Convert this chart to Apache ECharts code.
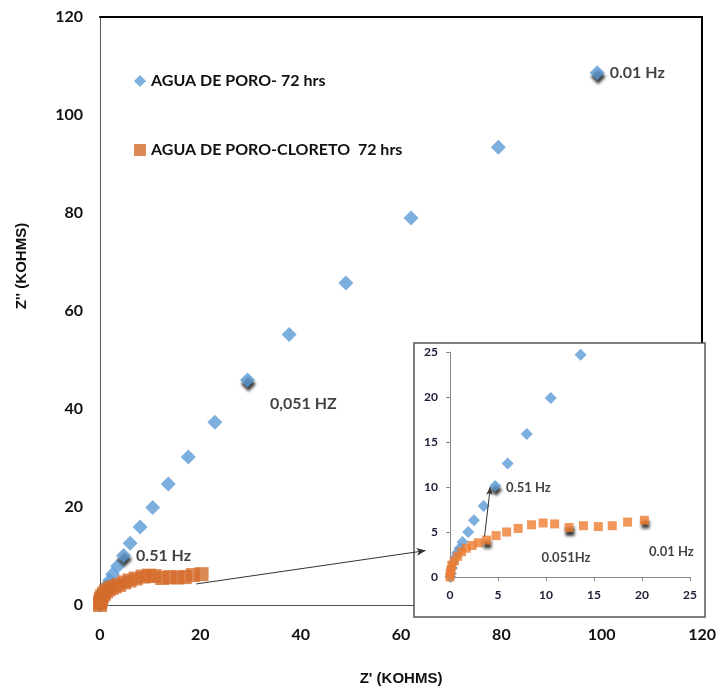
<!DOCTYPE html>
<html><head><meta charset="utf-8">
<script src="https://cdn.jsdelivr.net/npm/echarts@6/dist/echarts.min.js"></script>
<style>html,body{margin:0;padding:0;background:#fff}#c{width:719px;height:691px}</style>
</head><body><div id="c"></div>
<script>
// ---- data (kOhms) ----
const seriesNames = ['AGUA DE PORO- 72 hrs', 'AGUA DE PORO-CLORETO  72 hrs'];
const poroX = [0.05, 0.1, 0.2, 0.35, 0.55, 0.75, 1.0, 1.3, 1.9, 2.5, 3.5, 4.7, 6.0, 8.0, 10.5, 13.6, 17.6, 22.9, 29.4, 37.7, 49.0, 62.0, 79.4, 99.1];
const poroY = [0.0, 0.4, 1.0, 1.6, 2.2, 2.7, 3.2, 3.9, 5.0, 6.3, 7.9, 10.1, 12.6, 15.9, 19.9, 24.7, 30.2, 37.3, 45.9, 55.2, 65.7, 79.0, 93.4, 108.6];
const cloretoX = [0.0, 0.02, 0.1, 0.2, 0.45, 0.8, 1.2, 1.7, 2.3, 2.95, 3.8, 4.8, 5.9, 7.1, 8.5, 9.7, 10.9, 12.4, 13.9, 15.45, 16.9, 18.5, 20.25];
const cloretoY = [0.0, 0.4, 0.8, 1.3, 1.8, 2.3, 2.8, 3.2, 3.5, 3.8, 4.1, 4.6, 5.0, 5.4, 5.8, 6.0, 5.9, 5.5, 5.7, 5.6, 5.7, 6.1, 6.3];
const mainTicks = [0, 20, 40, 60, 80, 100, 120];
const insetTicks = [0, 5, 10, 15, 20, 25];
// annotated points: [series, index, text]
const mainNotes = [[0, 23, '0.01 Hz'], [0, 18, '0,051 HZ'], [0, 11, '0.51 Hz']];
const insetNotes = [[0, 11, '0.51 Hz'], [1, 17, '0.051Hz'], [1, 22, '0.01 Hz'], [1, 10, '']];
// arrows (data coords): main grid, inset grid
const mainArrow = [[19.2, 4.3], [64.9, 11.1]];
const insetArrow = [[3.6, 4.5], [4.2, 10.0]];

// ---- styling ----
const BLUE = '#5B9BD5', ORANGE_MAIN = '#D46B2B', ORANGE_IN = '#ED7D31';
const FONT = 'Lato, "Open Sans", sans-serif';
const mainLabelStyle = {
  '0.01 Hz': {position: 'right', offset: [0, 0]},
  '0,051 HZ': {position: 'right', offset: [10, 24]},
  '0.51 Hz': {position: 'right', offset: [0, 0]}
};
const insetLabelStyle = {
  '0.51 Hz': {position: 'right', offset: [0, 2]},
  '0.051Hz': {position: 'bottom', offset: [-3, 14]},
  '0.01 Hz': {position: 'bottom', offset: [27, 16]},
  '': {position: 'right', offset: [0, 0]}
};
const shadow = {shadowColor: 'rgba(0,0,0,0.95)', shadowBlur: 3, shadowOffsetX: 1, shadowOffsetY: 4};

function build(xs, ys, sIdx, notes, styles, fontSize) {
  return xs.map((x, i) => {
    const note = notes.find(n => n[0] === sIdx && n[1] === i);
    if (!note) return [x, ys[i]];
    const st = styles[note[2]];
    return {
      value: [x, ys[i]],
      itemStyle: shadow,
      label: {show: note[2] !== '', formatter: note[2], position: st.position, offset: st.offset,
        fontFamily: FONT, fontWeight: 'bold', fontSize: fontSize, color: '#111'}
    };
  });
}

const chart = echarts.init(document.getElementById('c'), null, {renderer: 'canvas'});
const mainAxisCommon = {
  type: 'value', min: mainTicks[0], max: mainTicks[mainTicks.length - 1], interval: mainTicks[1] - mainTicks[0],
  splitLine: {show: false}, axisTick: {show: false},
  axisLine: {show: true, lineStyle: {color: '#555', width: 1}},
  axisLabel: {fontFamily: FONT, fontWeight: 'bold', fontSize: 16, color: '#111'}
};
const insetAxisCommon = {
  type: 'value', min: insetTicks[0], max: insetTicks[insetTicks.length - 1], interval: insetTicks[1] - insetTicks[0],
  splitLine: {show: false}, z: 5,
  axisTick: {show: true, length: 4, lineStyle: {color: '#888'}},
  axisLine: {show: true, onZero: false, lineStyle: {color: '#888', width: 1}},
  axisLabel: {fontFamily: FONT, fontWeight: 'bold', fontSize: 12, color: '#1d1d3a'}
};

chart.setOption({
  animation: false,
  backgroundColor: '#fff',
  grid: [
    {left: 100, top: 17, right: 14, bottom: 82},
    {left: 450, top: 352, right: 29, bottom: 114}
  ],
  xAxis: [
    Object.assign({}, mainAxisCommon, {gridIndex: 0, name: "Z' (KOHMS)", nameLocation: 'middle', nameGap: 66,
      nameTextStyle: {fontFamily: '"Liberation Sans", Arial, sans-serif', fontWeight: 'bold', fontSize: 15, color: '#111'},
      axisLabel: Object.assign({}, mainAxisCommon.axisLabel, {margin: 22})}),
    Object.assign({}, insetAxisCommon, {gridIndex: 1, axisLabel: Object.assign({}, insetAxisCommon.axisLabel, {margin: 12})}),
    {type: 'value', gridIndex: 0, position: 'top', min: 0, max: 120, axisLabel: {show: false}, axisTick: {show: false},
      splitLine: {show: false}, axisLine: {show: true, onZero: false, lineStyle: {color: '#000', width: 2}}}
  ],
  yAxis: [
    Object.assign({}, mainAxisCommon, {gridIndex: 0, axisLabel: Object.assign({}, mainAxisCommon.axisLabel, {margin: 17})}),
    Object.assign({}, insetAxisCommon, {gridIndex: 1, axisLabel: Object.assign({}, insetAxisCommon.axisLabel, {margin: 12})}),
    {type: 'value', gridIndex: 0, position: 'right', min: 0, max: 120, axisLabel: {show: false}, axisTick: {show: false},
      splitLine: {show: false}, axisLine: {show: true, onZero: false, lineStyle: {color: '#000', width: 2}}}
  ],
  legend: {
    orient: 'vertical', left: 129, top: 68, itemGap: 53, itemWidth: 12, itemHeight: 12,
    data: [{name: seriesNames[0], icon: 'diamond'}, {name: seriesNames[1], icon: 'rect'}],
    textStyle: {fontFamily: FONT, fontWeight: 'bold', fontSize: 16, color: '#111'}
  },
  graphic: [
    {type: 'rect', z: 1, shape: {x: 414, y: 343, width: 291, height: 274},
      style: {fill: '#fff', stroke: '#555', lineWidth: 1.5}},
    {type: 'text', z: 10, x: 22, y: 266, rotation: Math.PI / 2,
      style: {text: "Z'' (KOHMS)", font: 'bold 15px "Liberation Sans", Arial, sans-serif', fill: '#111',
        textAlign: 'center', textVerticalAlign: 'middle'}}
  ],
  series: [
    {name: seriesNames[0], type: 'scatter', xAxisIndex: 0, yAxisIndex: 0, symbol: 'diamond', symbolSize: 15,
      itemStyle: {color: BLUE}, data: build(poroX, poroY, 0, mainNotes, mainLabelStyle, 16)},
    {name: seriesNames[1], type: 'scatter', xAxisIndex: 0, yAxisIndex: 0, symbol: 'rect', symbolSize: 14,
      itemStyle: {color: ORANGE_MAIN}, data: build(cloretoX, cloretoY, 1, mainNotes, mainLabelStyle, 16),
      markLine: {silent: true, symbol: ['none', 'arrow'], symbolSize: [6, 9], label: {show: false},
        lineStyle: {color: '#333', width: 1, type: 'solid'},
        data: [[{coord: mainArrow[0]}, {coord: mainArrow[1]}]]}},
    {name: seriesNames[0], type: 'scatter', xAxisIndex: 1, yAxisIndex: 1, symbol: 'diamond', symbolSize: 12, z: 6,
      itemStyle: {color: BLUE}, data: build(poroX, poroY, 0, insetNotes, insetLabelStyle, 13)},
    {name: seriesNames[1], type: 'scatter', xAxisIndex: 1, yAxisIndex: 1, symbol: 'rect', symbolSize: 9, z: 6,
      itemStyle: {color: ORANGE_IN}, data: build(cloretoX, cloretoY, 1, insetNotes, insetLabelStyle, 13),
      markLine: {silent: true, symbol: ['none', 'arrow'], symbolSize: [5, 8], label: {show: false}, z: 7,
        lineStyle: {color: '#333', width: 1, type: 'solid'},
        data: [[{coord: insetArrow[0]}, {coord: insetArrow[1]}]]}}
  ]
});
</script></body></html>
